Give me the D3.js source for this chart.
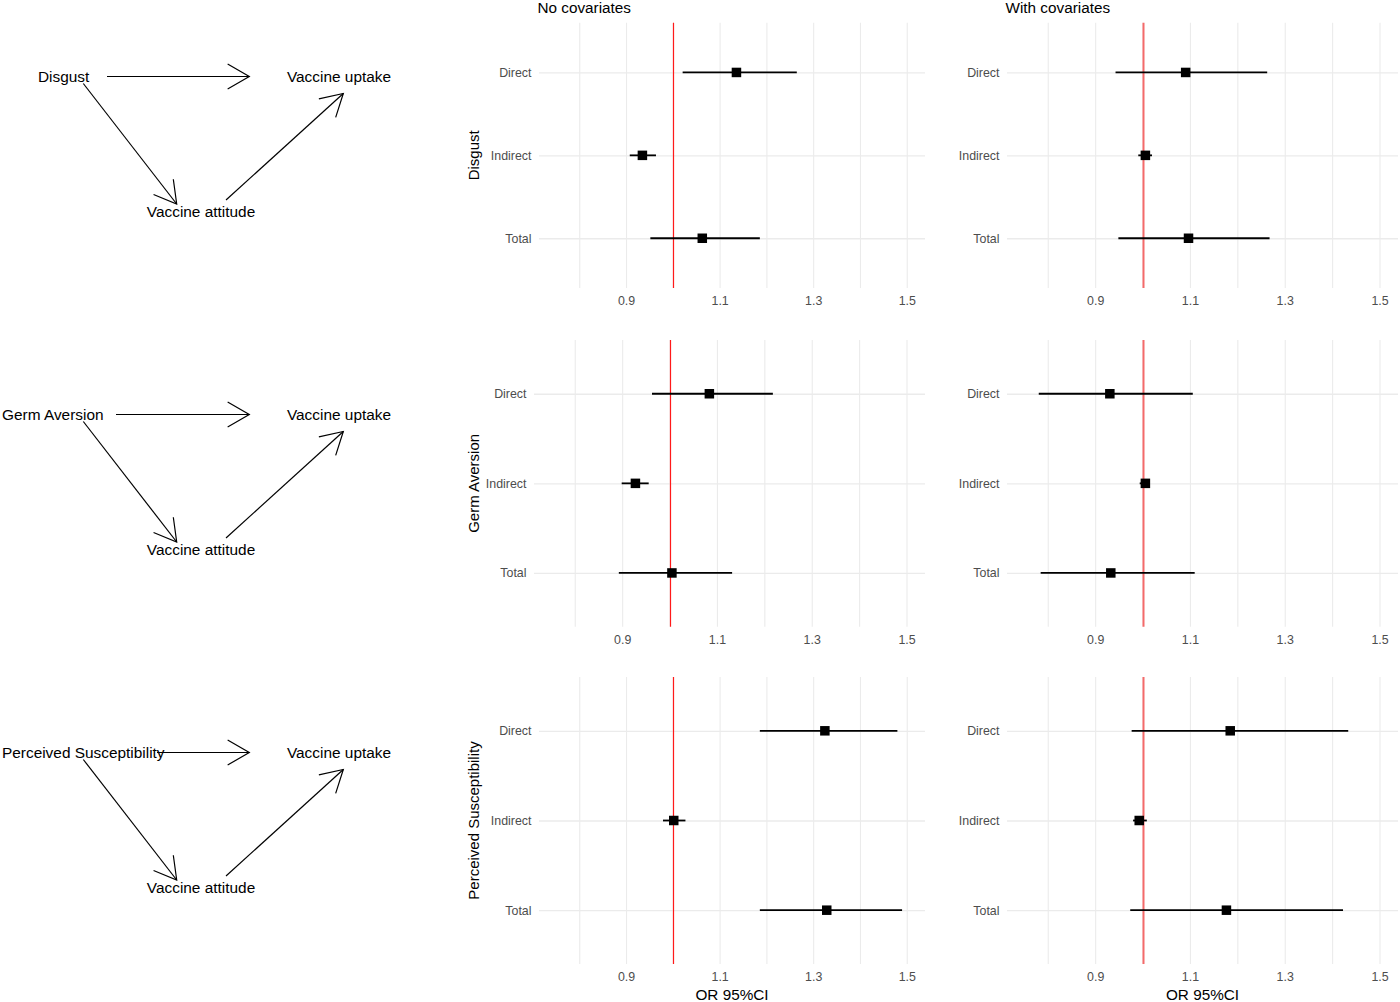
<!DOCTYPE html>
<html>
<head>
<meta charset="utf-8">
<script src="https://cdn.jsdelivr.net/npm/d3@7"></script>
<style>
  html, body { margin: 0; padding: 0; background: #fff; }
  svg { display: block; font-family: 'Liberation Sans', Arial, sans-serif; }
</style>
</head>
<body>
<div id="chart"></div>
<script>
const exposures = ['Disgust', 'Germ Aversion', 'Perceived Susceptibility'];
const effects = ['Direct', 'Indirect', 'Total'];
const modelTitles = ['No covariates', 'With covariates'];
const mediatorLabel = 'Vaccine attitude';
const outcomeLabel = 'Vaccine uptake';
const xAxisTitle = 'OR 95%CI';
const majorTicks = [0.9, 1.1, 1.3, 1.5];
const minorTicks = [0.8, 1.0, 1.2, 1.4];

// odds ratios, one row per exposure, columns Direct / Indirect / Total
const orNoCov   = [[1.136, 0.935, 1.063], [1.084, 0.928, 1.005], [1.325, 1.002, 1.329]];
const lowNoCov  = [[1.021, 0.908, 0.952], [0.963, 0.899, 0.893], [1.186, 0.979, 1.186]];
const highNoCov = [[1.265, 0.964, 1.186], [1.218, 0.956, 1.132], [1.480, 1.027, 1.490]];

const orWithCov   = [[1.091, 1.006, 1.097], [0.931, 1.006, 0.933], [1.185, 0.993, 1.177]];
const lowWithCov  = [[0.943, 0.991, 0.949], [0.781, 0.994, 0.785], [0.977, 0.980, 0.974]];
const highWithCov = [[1.263, 1.020, 1.268], [1.106, 1.014, 1.110], [1.434, 1.009, 1.423]];

const models = [
  { or: orNoCov, low: lowNoCov, high: highNoCov },
  { or: orWithCov, low: lowWithCov, high: highWithCov }
];

const width = 1400;
const height = 1002;

// page layout (pixels)
const rows = [
  { top: 22.7, bottom: 288, lefts: [539, 1007], dagY: 77, labelX: 38, arrowFrom: 107 },
  { top: 340, bottom: 626.7, lefts: [534, 1007], dagY: 415, labelX: 2, arrowFrom: 116 },
  { top: 677, bottom: 964, lefts: [539, 1007], dagY: 753, labelX: 2, arrowFrom: 157 }
];
const cols = [
  { right: 925, refColor: '#ff1a1a', refWidth: 1.2 },
  { right: 1398, refColor: '#f46a6a', refWidth: 2 }
];

const svg = d3.select('#chart')
  .append('svg')
  .attr('width', width)
  .attr('height', height)
  .attr('viewBox', `0 0 ${width} ${height}`);

svg.append('rect').attr('width', width).attr('height', height).attr('fill', '#fff');

function drawArrow(g, x1, y1, x2, y2) {
  g.append('line')
    .attr('x1', x1).attr('y1', y1)
    .attr('x2', x2).attr('y2', y2)
    .attr('stroke', '#000')
    .attr('stroke-width', 1.2);

  const angle = Math.atan2(y2 - y1, x2 - x1);
  const len = 25;
  const spread = Math.PI / 6;
  const arms = [angle + Math.PI - spread, angle + Math.PI + spread]
    .map((a) => [x2 + len * Math.cos(a), y2 + len * Math.sin(a)]);

  g.append('path')
    .attr('d', `M${arms[0][0]},${arms[0][1]}L${x2},${y2}L${arms[1][0]},${arms[1][1]}`)
    .attr('fill', 'none')
    .attr('stroke', '#000')
    .attr('stroke-width', 1.2);
}

function drawDag(rowIndex) {
  const row = rows[rowIndex];
  const y0 = row.dagY;
  const g = svg.append('g').attr('class', 'dag');
  const text = (x, y, label, anchor) => g.append('text')
    .attr('x', x)
    .attr('y', y)
    .attr('dy', '0.35em')
    .attr('text-anchor', anchor)
    .attr('font-size', 15.4)
    .attr('fill', '#000')
    .text(label);

  text(row.labelX, y0, exposures[rowIndex], 'start');
  text(339, y0, outcomeLabel, 'middle');
  text(201, y0 + 135, mediatorLabel, 'middle');

  drawArrow(g, row.arrowFrom, y0 - 0.5, 249.3, y0 - 0.5);
  drawArrow(g, 83.3, y0 + 6.5, 176.7, y0 + 127);
  drawArrow(g, 226, y0 + 123, 343.3, y0 + 16.5);
}

function drawPanel(rowIndex, colIndex) {
  const row = rows[rowIndex];
  const col = cols[colIndex];
  const model = models[colIndex];
  const left = row.lefts[colIndex];
  const right = col.right;
  const top = row.top;
  const bottom = row.bottom;

  const x = d3.scaleLinear().domain([0.714, 1.539]).range([left, right]);
  const y = d3.scalePoint().domain(effects).range([top, bottom]).padding(0.6);

  const panel = svg.append('g').attr('class', 'forest');

  // vertical grid (major + minor)
  panel.append('g')
    .attr('transform', `translate(0,${bottom})`)
    .call(d3.axisBottom(x).tickValues(minorTicks.concat(majorTicks)).tickSize(-(bottom - top)).tickFormat(''))
    .call((axis) => axis.select('.domain').remove())
    .call((axis) => axis.selectAll('line').attr('stroke', '#ebebeb').attr('stroke-width', 1.1));

  // horizontal grid + category labels
  panel.append('g')
    .attr('transform', `translate(${left},0)`)
    .call(d3.axisLeft(y).tickSize(-(right - left)).tickPadding(7.5))
    .call((axis) => axis.select('.domain').remove())
    .call((axis) => axis.selectAll('line').attr('stroke', '#ebebeb').attr('stroke-width', 1.3))
    .call((axis) => axis.selectAll('text')
      .attr('fill', '#4d4d4d')
      .attr('font-size', 12.4)
      .attr('font-family', "'Liberation Sans', Arial, sans-serif"));

  // x tick labels
  panel.append('g')
    .attr('transform', `translate(0,${bottom})`)
    .call(d3.axisBottom(x).tickValues(majorTicks).tickSize(0).tickPadding(8.5).tickFormat(d3.format('.1f')))
    .call((axis) => axis.select('.domain').remove())
    .call((axis) => axis.selectAll('text')
      .attr('fill', '#4d4d4d')
      .attr('font-size', 12.4)
      .attr('font-family', "'Liberation Sans', Arial, sans-serif"));

  // reference line at OR = 1
  const refX = Math.round(x(1)) + 0.5;
  panel.append('line')
    .attr('x1', refX).attr('x2', refX)
    .attr('y1', top).attr('y2', bottom)
    .attr('stroke', col.refColor)
    .attr('stroke-width', col.refWidth);

  const data = effects.map((effect, i) => ({
    effect,
    or: model.or[rowIndex][i],
    low: model.low[rowIndex][i],
    high: model.high[rowIndex][i]
  }));

  panel.append('g')
    .selectAll('line')
    .data(data)
    .join('line')
    .attr('x1', (d) => x(d.low))
    .attr('x2', (d) => x(d.high))
    .attr('y1', (d) => y(d.effect))
    .attr('y2', (d) => y(d.effect))
    .attr('stroke', '#000')
    .attr('stroke-width', 1.8);

  const size = 9.5;
  panel.append('g')
    .selectAll('rect')
    .data(data)
    .join('rect')
    .attr('x', (d) => x(d.or) - size / 2)
    .attr('y', (d) => y(d.effect) - size / 2)
    .attr('width', size)
    .attr('height', size)
    .attr('fill', '#000');

  if (rowIndex === 0) {
    panel.append('text')
      .attr('x', left - 1.5)
      .attr('y', 12.7)
      .attr('font-size', 15.3)
      .attr('fill', '#000')
      .text(modelTitles[colIndex]);
  }

  if (colIndex === 0) {
    panel.append('text')
      .attr('transform', `translate(478.5,${(top + bottom) / 2}) rotate(-90)`)
      .attr('text-anchor', 'middle')
      .attr('font-size', 15)
      .attr('fill', '#000')
      .text(exposures[rowIndex]);
  }

  if (rowIndex === rows.length - 1) {
    panel.append('text')
      .attr('x', (left + right) / 2)
      .attr('y', 1000)
      .attr('text-anchor', 'middle')
      .attr('font-size', 15.3)
      .attr('fill', '#000')
      .text(xAxisTitle);
  }
}

exposures.forEach((exposure, r) => {
  drawDag(r);
  modelTitles.forEach((title, c) => drawPanel(r, c));
});
</script>
</body>
</html>
